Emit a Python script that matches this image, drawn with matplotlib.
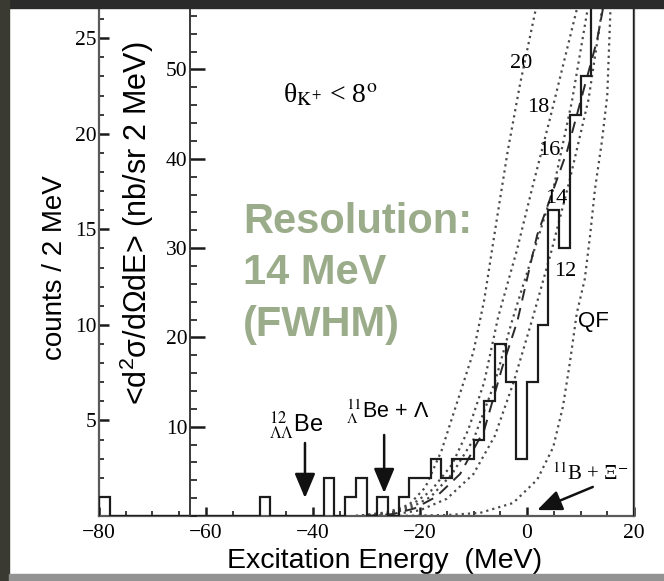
import matplotlib
matplotlib.use("Agg")
import matplotlib.pyplot as plt
from matplotlib.patches import Rectangle
from matplotlib.ticker import MultipleLocator

# measured spectrum, 2 MeV bins starting at -80 MeV
bin_edges = list(range(-80, 22, 2))
counts = [1, 0, 0, 0, 0, 0, 0, 0, 0, 0, 0, 0, 0, 0, 0,
          1, 0, 0, 0, 0, 0,
          2, 0, 1, 2, 0, 1, 0, 1, 2, 2, 3, 2, 3, 3, 4, 6, 9, 7, 3, 7,
          10, 16, 14, 21, 23, 30, 32, 35, 33]

# calculated spectra (counts / 2 MeV) for the different well depths, and QF
e_v20 = [-32, -26, -22, -19, -16, -13, -10, -8, -5.6, -3.6, -1.3, 2.0]
c_v20 = [0, 0.2, 0.6, 1.5, 3.4, 6.0, 8.6, 11.3, 15.6, 19.1, 22.6, 27.0]
e_v18 = [-32, -26, -22, -18, -14, -11, -8, -5.4, -1.9, 1.1, 4.3, 9.3]
c_v18 = [0, 0.15, 0.5, 1.3, 2.7, 4.5, 7.0, 10.4, 13.9, 17.3, 20.8, 26.5]
e_v16 = [-32, -26, -22, -18, -14, -10, -6, -2.8, -0.7, 1.9, 4.9, 8.4, 11.5]
c_v16 = [0, 0.1, 0.4, 1.0, 2.2, 4.0, 7.0, 10.2, 12.1, 14.4, 17.1, 21.7, 26.8]
e_v14 = [-30, -25, -21, -17, -12.5, -8, -4.6, -1.8, 1.9, 7.5, 13.1, 14.5]
c_v14 = [0, 0.1, 0.4, 1.0, 2.2, 4.5, 7.8, 10.2, 14.7, 19.1, 24.9, 27.0]
e_v12 = [-30, -25, -20, -15, -10, -6, -2.5, 1, 4.5, 8, 11.5, 14.2]
c_v12 = [0, 0.08, 0.3, 0.9, 2.2, 4.2, 7.0, 10.3, 13.8, 17.6, 21.8, 26.8]
e_qf = [-25, -15, -8.8, -2.6, 1.9, 4.9, 6.7, 8.0, 9.3, 10.8, 11.8, 12.7, 14.0, 15.0, 15.6]
c_qf = [0, 0.05, 0.16, 0.68, 1.9, 3.6, 5.7, 8.0, 10.6, 12.4, 14.7, 17.1, 19.6, 22.0, 26.5]

curve_labels = ['20', '18', '16', '14', '12']
xsec_per_count = 2.14   # nb/sr per count

SANS = 'Liberation Sans'
SERIF = 'Liberation Serif'
plt.rcParams['font.family'] = SERIF
plt.rcParams['mathtext.fontset'] = 'custom'
plt.rcParams['mathtext.rm'] = SANS
plt.rcParams['mathtext.it'] = SANS + ':italic'
plt.rcParams['mathtext.bf'] = SANS + ':bold'

W, H = 664, 581
fig = plt.figure(figsize=(W / 100, H / 100), dpi=100)
ax = fig.add_axes([99 / W, 65 / H, 535 / W, 516 / H])
ax.set_xlim(-80, 20)
ax.set_ylim(0, 27.0)

ax.stairs(counts, bin_edges, color='#1c1c1c', lw=1.6, baseline=0, zorder=3)

dot = (0, (1, 1.8))
for e, c in [(e_v20, c_v20), (e_v18, c_v18), (e_v16, c_v16), (e_v12, c_v12), (e_qf, c_qf)]:
    ax.plot(e, c, ls=dot, lw=1.6, color='#4a4a4a', zorder=2)
ax.plot(e_v14, c_v14, ls=(0, (6, 4)), lw=1.4, color='#2a2a2a', zorder=2)

# curve labels
label_pos = [(-1.1, 23.7), (2.1, 21.4), (4.1, 19.1), (5.4, 16.6), (7.1, 12.8)]
for lab, (x, y) in zip(curve_labels, label_pos):
    ax.text(x, y, lab, fontsize=16, ha='center', va='center', zorder=4)
ax.text(12.5, 10.2, 'QF', family=SANS, fontsize=16, ha='center', va='center')

ax.text(-36.8, 22.0, r'θ$_{\mathrm{K}^{+}}$ < 8$^{\mathrm{o}}$', fontsize=20,
        ha='center', va='center', math_fontfamily='stix')

# arrows and their labels
head = dict(arrowstyle='-|>,head_length=1.0,head_width=0.42', mutation_scale=15,
            lw=1.8, color='#111111', shrinkA=0, shrinkB=0)
ax.annotate('', xy=(-41.5, 0.94), xytext=(-41.5, 3.82), arrowprops=head)
ax.annotate('', xy=(-26.7, 1.2), xytext=(-26.7, 4.24), arrowprops=head)
ax.annotate('', xy=(1.9, 0.31), xytext=(12.3, 1.52), arrowprops=head)
ax.text(-43.2, 4.35, r'$^{12}_{\Lambda\Lambda}$Be', family=SANS, fontsize=17,
        ha='center', va='baseline', math_fontfamily='stix')
ax.text(-26.0, 5.13, r'$^{11}_{\Lambda}$Be + Λ', family=SANS, fontsize=15.5,
        ha='center', va='baseline', math_fontfamily='stix')
ax.text(11.8, 1.9, r'$^{11}$B + Ξ$^{-}$', family=SERIF, fontsize=15,
        ha='center', va='baseline', math_fontfamily='stix')

# axes styling
for s in ['left', 'right', 'bottom']:
    ax.spines[s].set_color('#5a5a5a')
    ax.spines[s].set_linewidth(1.6)
ax.spines['top'].set_visible(False)
ax.set_xticks(range(-80, 21, 20))
ax.xaxis.set_minor_locator(MultipleLocator(5))
ax.set_yticks([5, 10, 15, 20, 25])
ax.yaxis.set_minor_locator(MultipleLocator(1))
ax.tick_params(which='both', direction='in', color='#1a1a1a', labelsize=15.5,
               right=False, top=False)
ax.tick_params(axis='y', which='major', length=7.5, width=1.8, pad=1.5)
ax.tick_params(axis='y', which='minor', length=3.8, width=1.2)
ax.tick_params(axis='x', which='major', length=6.5, width=1.8, pad=6)
ax.tick_params(axis='x', which='minor', length=3.8, width=1.2)

# cross-section scale drawn as an inner axis
ax2 = ax.twinx()
ax2.set_ylim(0, 27.0 * xsec_per_count)
for s in ['right', 'top', 'bottom']:
    ax2.spines[s].set_visible(False)
ax2.spines['left'].set_visible(True)
ax2.spines['left'].set_position(('data', -63))
ax2.spines['left'].set_color('#3a3a3a')
ax2.spines['left'].set_linewidth(1.4)
ax2.yaxis.set_ticks_position('left')
ax2.set_yticks([10, 20, 30, 40, 50])
ax2.yaxis.set_minor_locator(MultipleLocator(2))
ax2.tick_params(which='both', direction='in', color='#1a1a1a', labelsize=15.5)
ax2.tick_params(which='major', length=11, width=1.8, pad=2)
ax2.tick_params(which='minor', length=5, width=1.2)

fig.text(55 / W, 1 - 268 / H, 'counts / 2 MeV', rotation=90, family=SANS,
         fontsize=20, ha='center', va='center')
fig.text(137 / W, 1 - 223 / H, '<d$^{2}$σ/dΩdE> (nb/sr 2 MeV)', rotation=90,
         family=SANS, fontsize=22, ha='center', va='center')
fig.text(385 / W, 1 - 561 / H, 'Excitation Energy  (MeV)', family=SANS,
         fontsize=20.5, ha='center', va='center')

res_lines = ['Resolution:', '14 MeV', '(FWHM)']
for i, line in enumerate(res_lines):
    fig.text(243 / W, 1 - (233 + 51.5 * i) / H, line, family=SANS, weight='bold',
             fontsize=30, color='#9bac8a', va='baseline')

# slide frame around the picture
fig.add_artist(Rectangle((0, 1 - 8 / H), 1, 8 / H, transform=fig.transFigure,
                         color='#2a2a2a', zorder=10))
fig.add_artist(Rectangle((0, 0), 9 / W, 1, transform=fig.transFigure,
                         color='#3a3a32', zorder=10))
fig.add_artist(Rectangle((9 / W, 0), 1, 7 / H, transform=fig.transFigure,
                         color='#939393', zorder=10))

fig.savefig('out.png', dpi=100)
